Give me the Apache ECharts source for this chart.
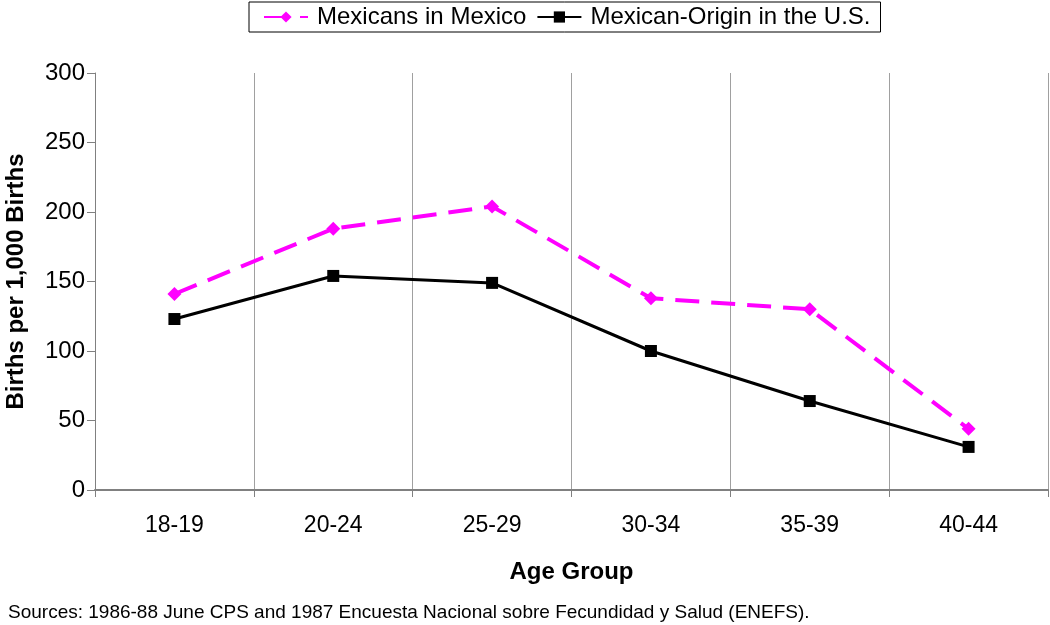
<!DOCTYPE html>
<html><head><meta charset="utf-8">
<script src="https://cdn.jsdelivr.net/npm/echarts@6/dist/echarts.min.js"></script>
<style>html,body{margin:0;padding:0;background:#fff}#c{width:1050px;height:625px}</style>
</head><body><div id="c"></div>
<script>
const categories = ['18-19','20-24','25-29','30-34','35-39','40-44'];
const mexicansInMexico = [141, 188, 204, 138, 130, 44];
const mexicanOriginUS = [123, 154, 149, 100, 64, 31];
const seriesNames = ['Mexicans in Mexico','Mexican-Origin in the U.S.'];
const yTicks = {min: 0, max: 300, interval: 50};

const chart = echarts.init(document.getElementById('c'));
const F = 'Liberation Sans, Arial, sans-serif';
chart.setOption({
  animation: false,
  textStyle: {fontFamily: F},
  grid: {left: 95, right: 2, top: 73, bottom: 135, outerBoundsMode: 'none'},
  legend: {
    top: 2, left: 249,
    padding: [3, 10, 3, 14],
    borderColor: '#000', borderWidth: 1,
    itemGap: 10, itemWidth: 44, itemHeight: 14,
    textStyle: {fontSize: 24, color: '#000', fontFamily: F, padding: [0, 0, 0, 4]},
    data: seriesNames
  },
  xAxis: {
    type: 'category', data: categories, boundaryGap: true,
    name: 'Age Group', nameLocation: 'middle', nameGap: 70,
    nameTextStyle: {fontSize: 24, fontWeight: 'bold', color: '#000', fontFamily: F},
    axisLine: {lineStyle: {color: '#808080', width: 2}},
    axisTick: {show: true, length: 7, lineStyle: {color: '#808080'}},
    axisLabel: {fontSize: 23, color: '#000', margin: 24, fontFamily: F},
    splitLine: {show: true, lineStyle: {color: '#a0a0a0', width: 1}}
  },
  yAxis: {
    type: 'value', min: yTicks.min, max: yTicks.max, interval: yTicks.interval,
    name: 'Births per 1,000 Births', nameLocation: 'middle', nameGap: 67,
    nameTextStyle: {fontSize: 24, fontWeight: 'bold', color: '#000', fontFamily: F},
    axisLine: {show: true, lineStyle: {color: '#808080', width: 1}},
    axisTick: {show: true, length: 8, lineStyle: {color: '#808080'}},
    axisLabel: {fontSize: 24, color: '#000', margin: 10, fontFamily: F},
    splitLine: {show: false}
  },
  series: [
    {
      name: seriesNames[0], type: 'line', data: mexicansInMexico,
      symbol: 'diamond', symbolSize: 14,
      lineStyle: {color: '#ff00ff', width: 4, type: [24, 12]},
      itemStyle: {color: '#ff00ff'}
    },
    {
      name: seriesNames[1], type: 'line', data: mexicanOriginUS,
      symbol: 'rect', symbolSize: 12,
      lineStyle: {color: '#000', width: 3},
      itemStyle: {color: '#000'}
    }
  ],
  graphic: [{
    type: 'text', left: 8, top: 603,
    style: {text: 'Sources: 1986-88 June CPS and 1987 Encuesta Nacional sobre Fecundidad y Salud (ENEFS).', fontSize: 19, fill: '#000', fontFamily: F}
  }]
});
</script></body></html>
